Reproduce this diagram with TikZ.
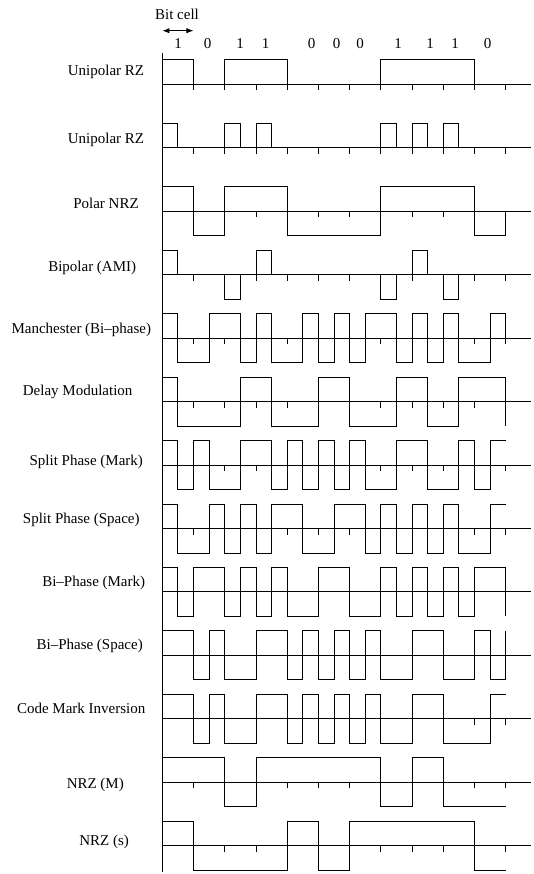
\documentclass[tikz,border=0pt]{standalone}
\usepackage{fontspec}
\setmainfont{Liberation Serif}
\usepackage{tikz}
\usetikzlibrary{arrows.meta}

% one time axis with its bit cell ticks
\newcommand{\cellaxis}{%
  \draw[axisline] (0,0) -- (11.81,0);
  \foreach \k in {1,...,11} \draw[tickmark] (\k,0) -- (\k,-0.25);}

\begin{document}
\begin{tikzpicture}[x=31.22pt, y=24.5pt, >=Latex, font=\fontsize{15}{18}\selectfont,
    wave/.style={line width=0.9pt},
    axisline/.style={line width=0.9pt},
    tickmark/.style={line width=0.9pt},
    lbl/.style={inner sep=0pt},
    row/.style={yshift=-#1*63.45pt}]
    \useasboundingbox (-162.3pt,84.3pt) rectangle (370.7pt,-789.7pt);
    % header
    \node[lbl] (bitcell) at (14.7pt,70.3pt) {Bit cell};
    \coordinate (cellL) at (0pt,53.6pt);
    \coordinate (cellR) at (31.22pt,53.6pt);
    \draw[<->, line width=0.9pt] (cellL) -- (cellR);
    \foreach \px/\b [count=\i] in {15.7/1, 45.4/0, 77.7/1, 103.4/1, 149.4/0, 174.4/0, 197.7/0, 235.7/1, 267.7/1, 292.7/1, 325.4/0}
        \node[lbl] (bit\i) at (\px pt,40.3pt) {\b};
    \draw[axisline] (0pt,31.3pt) -- (0pt,-787.7pt);

    \begin{scope}[row=0]
        \node[lbl] (unirza) at (-56.3pt,12pt) {Unipolar RZ};
        \cellaxis
        \draw[wave] (0,1) -| (1,0) -| (2,1) -| (4,0) -| (7,1) -| (10,0) -- (11,0);
    \end{scope}
    \begin{scope}[row=1]
        \node[lbl] (unirzb) at (-56.3pt,7.7pt) {Unipolar RZ};
        \cellaxis
        \draw[wave] (0,1) -| (0.5,0) -| (2,1) -| (2.5,0) -| (3,1) -| (3.5,0) -| (7,1) -| (7.5,0)
            -| (8,1) -| (8.5,0) -| (9,1) -| (9.5,0) -- (11,0);
    \end{scope}
    \begin{scope}[row=2]
        \node[lbl] (polar) at (-56.3pt,7.7pt) {Polar NRZ};
        \cellaxis
        \draw[wave] (0,1) -| (1,-1) -| (2,1) -| (4,-1) -| (7,1) -| (10,-1) -| (11,0);
    \end{scope}
    \begin{scope}[row=3]
        \node[lbl] (ami) at (-70.1pt,7pt) {Bipolar (AMI)};
        \cellaxis
        \draw[wave] (0,1) -| (0.5,0) -| (2,-1) -| (2.5,0) -| (3,1) -| (3.5,0) -| (7,-1) -| (7.5,0)
            -| (8,1) -| (8.5,0) -| (9,-1) -| (9.5,0) -- (11,0);
    \end{scope}
    \begin{scope}[row=4]
        \node[lbl] (manch) at (-81pt,8.3pt) {Manchester (Bi--phase)};
        \cellaxis
        \draw[wave] (0,1) -| (0.5,-1) -| (1.5,1) -| (2.5,-1) -| (3,1) -| (3.5,-1) -| (4.5,1) -| (5,-1)
            -| (5.5,1) -| (6,-1) -| (6.5,1) -| (7.5,-1) -| (8,1) -| (8.5,-1) -| (9,1) -| (9.5,-1)
            -| (10.5,1) -| (11,0);
    \end{scope}
    \begin{scope}[row=5]
        \node[lbl] (delay) at (-84.6pt,9.3pt) {Delay Modulation};
        \cellaxis
        \draw[wave] (0,1) -| (0.5,-1) -| (2.5,1) -| (3.5,-1) -| (5,1) -| (6,-1) -| (7.5,1) -| (8.5,-1)
            -| (9.5,1) -| (11,-1);
    \end{scope}
    \begin{scope}[row=6]
        \node[lbl] (spmark) at (-76pt,2.7pt) {Split Phase (Mark)};
        \cellaxis
        \draw[wave] (0,1) -| (0.5,-1) -| (1,1) -| (1.5,-1) -| (2.5,1) -| (3.5,-1) -| (4,1) -| (4.5,-1)
            -| (5,1) -| (5.5,-1) -| (6,1) -| (6.5,-1) -| (7.5,1) -| (8.5,-1) -| (9.5,1) -| (10,-1)
            -| (10.5,1) -- (11,1);
    \end{scope}
    \begin{scope}[row=7]
        \node[lbl] (spspace) at (-81pt,8.3pt) {Split Phase (Space)};
        \cellaxis
        \draw[wave] (0,1) -| (0.5,-1) -| (1.5,1) -| (2,-1) -| (2.5,1) -| (3,-1) -| (3.5,1) -| (4.5,-1)
            -| (5.5,1) -| (6.5,-1) -| (7,1) -| (7.5,-1) -| (8,1) -| (8.5,-1) -| (9,1) -| (9.5,-1)
            -| (10.5,1) -- (11,1);
    \end{scope}
    \begin{scope}[row=8]
        \node[lbl] (bpmark) at (-68.6pt,9pt) {Bi--Phase (Mark)};
        \cellaxis
        \draw[wave] (0,1) -| (0.5,-1) -| (1,1) -| (2,-1) -| (2.5,1) -| (3,-1) -| (3.5,1) -| (4,-1)
            -| (5,1) -| (6,-1) -| (7,1) -| (7.5,-1) -| (8,1) -| (8.5,-1) -| (9,1) -| (9.5,-1)
            -| (10,1) -| (11,-1);
    \end{scope}
    \begin{scope}[row=9]
        \node[lbl] (bpspace) at (-72.6pt,9.3pt) {Bi--Phase (Space)};
        \cellaxis
        \draw[wave] (0,1) -| (1,-1) -| (1.5,1) -| (2,-1) -| (3,1) -| (4,-1) -| (4.5,1) -| (5,-1)
            -| (5.5,1) -| (6,-1) -| (6.5,1) -| (7,-1) -| (8,1) -| (9,-1) -| (10,1) -| (10.5,-1)
            -| (11,1);
    \end{scope}
    \begin{scope}[row=10]
        \node[lbl] (cmi) at (-81.1pt,10pt) {Code Mark Inversion};
        \cellaxis
        \draw[wave] (0,1) -| (1,-1) -| (1.5,1) -| (2,-1) -| (3,1) -| (4,-1) -| (4.5,1) -| (5,-1)
            -| (5.5,1) -| (6,-1) -| (6.5,1) -| (7,-1) -| (8,1) -| (9,-1) -| (10.5,1) -- (11,1);
    \end{scope}
    \begin{scope}[row=11]
        \node[lbl] (nrzm) at (-67pt,-2.3pt) {NRZ (M)};
        \cellaxis
        \draw[wave] (0,1) -| (2,-1) -| (3,1) -| (7,-1) -| (8,1) -| (9,-1) -- (11,-1);
    \end{scope}
    \begin{scope}[row=12]
        \node[lbl] (nrzs) at (-58.1pt,3.4pt) {NRZ (s)};
        \cellaxis
        \draw[wave] (0,1) -| (1,-1) -| (4,1) -| (5,-1) -| (6,1) -| (10,-1) -- (11,-1);
    \end{scope}
\end{tikzpicture}
\end{document}
